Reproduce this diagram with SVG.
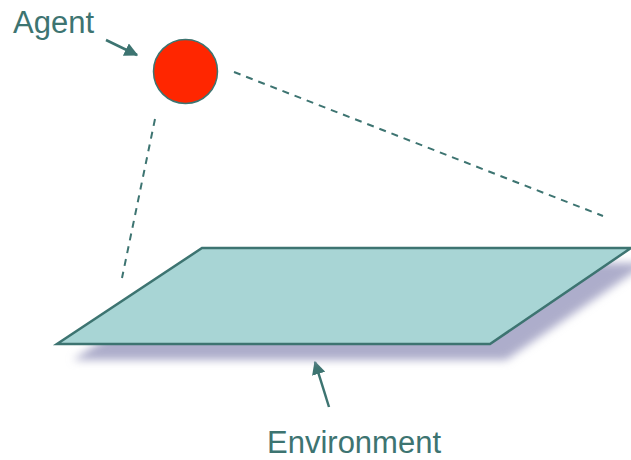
<svg xmlns="http://www.w3.org/2000/svg" width="631" height="460" viewBox="0 0 631 460">
<defs>
<style>
.lbl{font-family:"Liberation Sans",Arial,sans-serif;font-size:31px;fill:#3d7471}
.dash{stroke:#3d7471;stroke-width:2;stroke-dasharray:7,6;fill:none}
.arr{stroke:#3d7471;stroke-width:2.5;fill:none;marker-end:url(#ah)}
</style>
<marker id="ah" viewBox="0 0 10 10" refX="9" refY="5" markerWidth="5.5" markerHeight="5.5" orient="auto" markerUnits="strokeWidth">
<path d="M0,0 L10,5 L0,10 z" fill="#3d7471"/>
</marker>
<filter id="blur" x="-10%" y="-30%" width="120%" height="160%">
<feGaussianBlur stdDeviation="4.5"/>
</filter>
</defs>
<g id="connectors">
<line class="dash" x1="155" y1="119" x2="122" y2="278"/>
<line class="dash" x1="234" y1="72" x2="603" y2="216"/>
<line class="arr" x1="106" y1="40" x2="137" y2="55"/>
<line class="arr" x1="329" y1="407" x2="315" y2="362"/>
</g>
<g id="environment">
<polygon points="218,263 647,263 506,360 73,360" fill="#adadcb" filter="url(#blur)"/>
<polygon points="202,248 631,248 490,344 57,344" fill="#a8d5d5" stroke="#3d7471" stroke-width="2.5" stroke-linejoin="miter"/>
<text class="lbl" x="267" y="453">Environment</text>
</g>
<g id="agent">
<circle cx="185.5" cy="71.5" r="32" fill="#ff2600" stroke="#3d7471" stroke-width="1.5"/>
<text class="lbl" x="13" y="33">Agent</text>
</g>
</svg>
